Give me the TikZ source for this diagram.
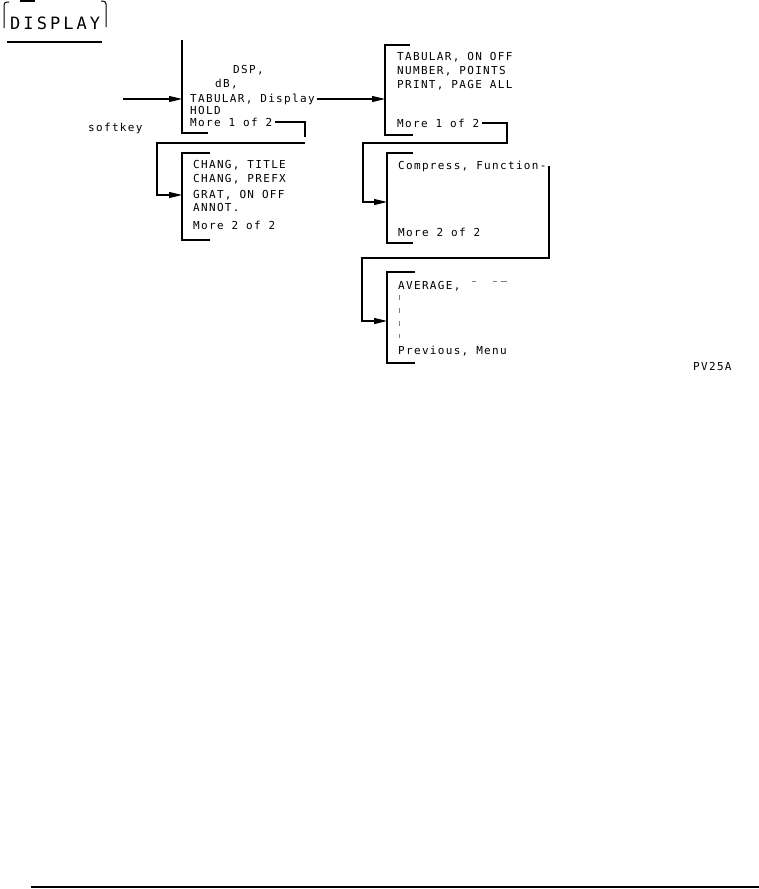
\documentclass[tikz,border=0pt]{standalone}
\usepackage{fontspec}
\newfontfamily\plotfont[LetterSpace=12]{DejaVu Sans Mono}
\newfontfamily\keyfont[LetterSpace=18]{DejaVu Sans Mono}
\usetikzlibrary{arrows.meta}
\begin{document}
\begin{tikzpicture}[x=1pt,y=-1pt,
  txt/.style={anchor=base west, inner sep=0pt, font=\plotfont\fontsize{11}{13}\selectfont},
  ln/.style={line width=1.2pt},
  arr/.style={ln,-{Triangle[length=13pt,width=6pt]}},
  frag/.style={line width=1pt, gray}]
\path[use as bounding box] (0,0) rectangle (759,889);
% hardkey
\node[anchor=base west, inner sep=0pt, font=\keyfont\fontsize{17}{19}\selectfont] (dk) at (10,29) {DISPLAY};
\draw[line width=1pt, rounded corners=3pt] (4,28) -- (4,2) -- (9,2);
\draw[line width=1pt, rounded corners=3pt] (101,1) -- (106,1) -- (106,27);
\draw[line width=2pt] (20,1) -- (35,1);
\draw[line width=1.5pt] (7,42) -- (102,42);
% box 1
\draw[ln] (182,40) -- (182,133) -- (208,133);
\node[txt] (k12) at (233,73) {DSP,};
\node[txt] (k13) at (215,87) {dB,};
\node[txt] (k14) at (190,102) {TABULAR, Display};
\node[txt] (k15) at (190,114) {HOLD};
\node[txt] (k16) at (190,126) {More 1 of 2};
\node[txt] (sk) at (88,131) {softkey};
\coordinate (kin) at (123,99);
\coordinate (b1in) at (182,99);
\draw[arr] (kin) -- (b1in);
\coordinate (h1) at (305,137);
\draw[ln] ([xshift=3pt]k16.east) -| (h1);
% box 1 -> box 2
\coordinate (c1a) at (305,143);
\coordinate (c1b) at (157,143);
\coordinate (b2in) at (182,195);
\draw[arr] (c1a) -- (c1b) |- (b2in);
% box 2
\draw[ln] (210,153) -- (182,153) -- (182,240) -- (210,240);
\node[txt] (k21) at (193,168) {CHANG, TITLE};
\node[txt] (k22) at (193,182) {CHANG, PREFX};
\node[txt] (k23) at (193,198) {GRAT, ON OFF};
\node[txt] (k24) at (193,211) {ANNOT.};
\node[txt] (k26) at (193,229) {More 2 of 2};
% box 3
\coordinate (b3in) at (385,99);
\draw[arr] ([xshift=2pt]k14.east |- b3in) -- (b3in);
\draw[ln] (410,45) -- (385,45) -- (385,135) -- (413,135);
\node[txt] (k31) at (397,60) {TABULAR, ON OFF};
\node[txt] (k32) at (397,74) {NUMBER, POINTS};
\node[txt] (k33) at (397,88) {PRINT, PAGE ALL};
\node[txt] (k36) at (397,127) {More 1 of 2};
\coordinate (h3) at (507,143);
\coordinate (c3b) at (363,143);
\coordinate (b4in) at (387,202);
\draw[arr] ([xshift=3pt]k36.east) -| (h3) -- (c3b) |- (b4in);
% box 4
\draw[ln] (413,153) -- (387,153) -- (387,243) -- (413,243);
\node[txt] (k41) at (398,169) {Compress, Function-};
\node[txt] (k46) at (398,236) {More 2 of 2};
\coordinate (f4t) at (549,166);
\coordinate (f4b) at (549,258);
\coordinate (c4b) at (362,258);
\coordinate (b5in) at (387,321);
\draw[arr] (f4t) -- (f4b) -- (c4b) |- (b5in);
% box 5
\draw[ln] (415,272) -- (387,272) -- (387,363) -- (415,363);
\node[txt] (k51) at (398,289) {AVERAGE,};
\node[txt] (k56) at (398,354) {Previous, Menu};
\draw[frag] (472,281) -- (476,281);
\draw[frag] (493,281) -- (497,281);
\draw[frag] (501,281) -- (507,281);
\draw[frag] (399,295) -- (399,300);
\draw[frag] (399,308) -- (399,313);
\draw[frag] (399,321) -- (399,326);
\draw[frag] (399,334) -- (399,338);
% label
\node[txt] (pv) at (693,370) {PV25A};
% bottom rule
\draw[line width=2pt] (31,887) -- (759,887);
\end{tikzpicture}
\end{document}
